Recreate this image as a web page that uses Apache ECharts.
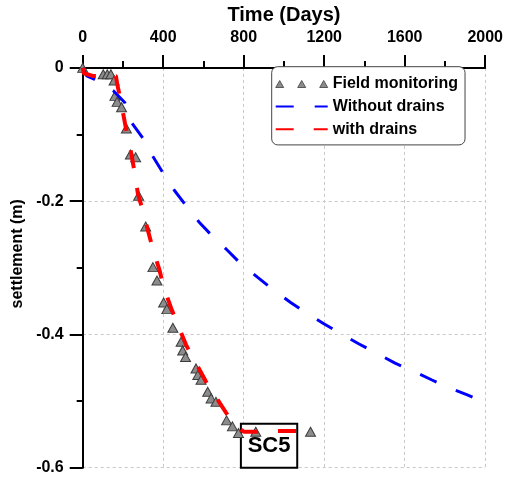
<!DOCTYPE html>
<html><head><meta charset="utf-8">
<script src="https://cdn.jsdelivr.net/npm/echarts@6/dist/echarts.min.js"></script>
<style>html,body{margin:0;padding:0;background:#fff}#c{width:506px;height:478px}</style>
</head><body><div id="c"></div>
<script>
const fieldDays   = [0, 102, 122, 140, 156, 160, 171, 193, 217, 237, 263, 278, 313, 349, 369, 402, 418, 448, 489, 497, 511, 563, 572, 588, 621, 638, 662, 715, 744, 774, 860, 1132];
const fieldSettle = [0, -0.0095, -0.0095, -0.0095, -0.019, -0.042, -0.051, -0.059, -0.091, -0.130, -0.134, -0.192, -0.238, -0.299, -0.319, -0.352, -0.362, -0.390, -0.411, -0.424, -0.434, -0.451, -0.461, -0.468, -0.486, -0.496, -0.501, -0.529, -0.538, -0.548, -0.546, -0.546];

const noDrainDays   = [0, 20, 57, 151, 209, 245, 300, 349, 398, 456, 514, 580, 643, 720, 786, 868, 942, 1033, 1107, 1198, 1371, 1453, 1552, 1634, 1733, 1812, 1914, 2000];
const noDrainSettle = [0, -0.012, -0.017, -0.034, -0.052, -0.083, -0.106, -0.133, -0.157, -0.184, -0.207, -0.232, -0.252, -0.274, -0.294, -0.314, -0.332, -0.352, -0.367, -0.384, -0.414, -0.427, -0.443, -0.454, -0.468, -0.479, -0.491, -0.502];

const drainDays   = [0, 5, 50, 165, 172, 190, 200, 217, 242, 255, 275, 300, 324, 349, 382, 402, 440, 473, 514, 555, 613, 662, 720, 778, 800, 868, 967, 1074, 1148];
const drainSettle = [0, -0.008, -0.012, -0.012, -0.025, -0.05, -0.067, -0.094, -0.129, -0.152, -0.19, -0.215, -0.244, -0.272, -0.304, -0.329, -0.361, -0.386, -0.416, -0.439, -0.471, -0.494, -0.521, -0.541, -0.546, -0.546, -0.545, -0.545, -0.546];

const timeTicks = [0, 400, 800, 1200, 1600, 2000];
const settleTicks = [-0.6, -0.4, -0.2, 0];
const caseLabel = 'SC5';

const zip = (a, b) => a.map((v, i) => [v, b[i]]);
const FONT = '"Liberation Sans", Arial, sans-serif';

const chart = echarts.init(document.getElementById('c'), null, {renderer: 'canvas'});
chart.setOption({
  animation: false,
  backgroundColor: '#fff',
  textStyle: {fontFamily: FONT},
  grid: {left: 82.7, right: 18.7, top: 66.7, bottom: 10.3},
  legend: {
    orient: 'vertical',
    left: 271.7, top: 66.7,
    padding: [9.3, 7, 7.7, 3],
    backgroundColor: '#fff',
    borderColor: '#444', borderWidth: 1, borderRadius: 6,
    itemWidth: 52, itemHeight: 7, itemGap: 6.6,
    selectedMode: false,
    itemStyle: {opacity: 0},
    textStyle: {fontFamily: FONT, fontWeight: 'bold', fontSize: 16, lineHeight: 16, color: '#000', padding: [0,0,0,0]},
    data: [
      {name: 'Field monitoring', icon: 'path://M0 7 L4 0 L8 7 Z M22 7 L26 0 L30 7 Z M44 7 L48 0 L52 7 Z',
       itemStyle: {opacity: 1, color: '#8c8c8c', borderColor: '#3c3c3c', borderWidth: 0.8}},
      {name: 'Without drains'},
      {name: 'with drains'}
    ]
  },
  xAxis: {
    type: 'value', position: 'top',
    min: timeTicks[0], max: timeTicks[timeTicks.length - 1], interval: timeTicks[1] - timeTicks[0],
    name: 'Time (Days)', nameLocation: 'middle', nameGap: 42,
    nameTextStyle: {fontFamily: FONT, fontWeight: 'bold', fontSize: 20, color: '#000'},
    axisLine: {show: true, onZero: false, lineStyle: {color: '#000', width: 2}},
    axisTick: {show: true, length: 13, lineStyle: {color: '#000', width: 2}},
    minorTick: {show: true, splitNumber: 2, length: 7, lineStyle: {color: '#000', width: 2}},
    axisLabel: {margin: 22, fontFamily: FONT, fontWeight: 'bold', fontSize: 16, color: '#000',
      formatter: v => String(Math.round(v))},
    splitLine: {show: true, lineStyle: {color: '#c8c8c8', width: 1, type: [3, 3]}}
  },
  yAxis: {
    type: 'value',
    min: settleTicks[0], max: settleTicks[settleTicks.length - 1], interval: settleTicks[1] - settleTicks[0],
    name: 'settlement (m)', nameLocation: 'middle', nameGap: 53,
    nameTextStyle: {fontFamily: FONT, fontWeight: 'bold', fontSize: 16, color: '#000', padding: [0, 0, 0, 28]},
    axisLine: {show: true, onZero: false, lineStyle: {color: '#000', width: 2}},
    axisTick: {show: true, length: 13, lineStyle: {color: '#000', width: 2}},
    minorTick: {show: true, splitNumber: 2, length: 6, lineStyle: {color: '#000', width: 2}},
    axisLabel: {margin: 19, fontFamily: FONT, fontWeight: 'bold', fontSize: 16, color: '#000',
      formatter: v => (Math.abs(v) < 1e-9 ? '0' : (+v.toFixed(1)).toString())},
    splitLine: {show: true, lineStyle: {color: '#c8c8c8', width: 1, type: [3, 3]}}
  },
  series: [
    {
      name: 'Field monitoring', type: 'scatter', z: 2,
      symbol: 'triangle', symbolSize: [10, 9],
      itemStyle: {color: '#8c8c8c', borderColor: '#3c3c3c', borderWidth: 1, opacity: 1},
      emphasis: {disabled: true},
      data: zip(fieldDays, fieldSettle),
      markArea: {
        silent: true,
        itemStyle: {color: '#fff', borderColor: '#000', borderWidth: 2, opacity: 1},
        label: {show: true, position: 'inside', fontFamily: FONT, fontWeight: 'bold', fontSize: 22, color: '#000'},
        emphasis: {disabled: true},
        data: [[{name: caseLabel, xAxis: 786, yAxis: -0.534}, {xAxis: 1066, yAxis: -0.6}]]
      }
    },
    {
      name: 'Without drains', type: 'line', z: 3,
      showSymbol: false, symbol: 'none', smooth: false,
      lineStyle: {color: '#0000ff', width: 3, type: [18, 21]},
      itemStyle: {color: '#0000ff'},
      emphasis: {disabled: true},
      data: zip(noDrainDays, noDrainSettle)
    },
    {
      name: 'with drains', type: 'line', z: 4,
      showSymbol: false, symbol: 'none', smooth: false,
      lineStyle: {color: '#ff0000', width: 4, type: [18, 20]},
      itemStyle: {color: '#ff0000'},
      emphasis: {disabled: true},
      data: zip(drainDays, drainSettle)
    }
  ]
});
</script></body></html>
